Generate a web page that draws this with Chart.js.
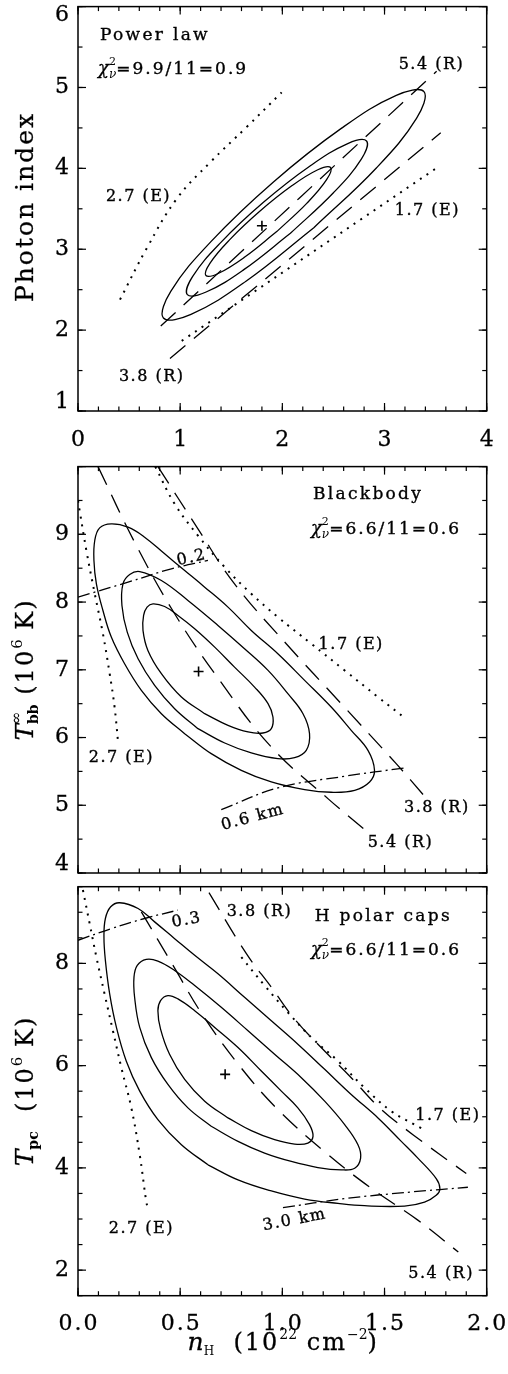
<!DOCTYPE html>
<html>
<head>
<meta charset="utf-8">
<script src="https://cdn.jsdelivr.net/npm/chart.js@4/dist/chart.umd.min.js"></script>
<style>
  html, body { margin: 0; padding: 0; background: #fff; }
  #wrap { position: relative; width: 508px; height: 1374px; overflow: hidden; }
  canvas { position: absolute; left: 0; }
</style>
</head>
<body>
<div id="wrap">
  <canvas id="c1" width="508" height="460" style="top:0px"></canvas>
  <canvas id="c2" width="508" height="420" style="top:460px"></canvas>
  <canvas id="c3" width="508" height="494" style="top:880px"></canvas>
</div>
<script>
// ---- panel 1: power law (nH, photon index) ----
const p1XTicks = [0, 1, 2, 3, 4];
const p1YTicks = [1, 2, 3, 4, 5, 6];
const plOuter = [[2.308,3.266],[1.644,2.604],[1.106,2.195],[0.836,2.150],[0.908,2.479],[1.301,3.094],[1.913,3.832],[2.577,4.494],[3.115,4.903],[3.386,4.949],[3.313,4.619],[2.920,4.004],[2.308,3.266]];
const plMiddle = [[2.079,3.197],[1.623,2.748],[1.254,2.471],[1.070,2.439],[1.121,2.662],[1.394,3.079],[1.815,3.580],[2.271,4.029],[2.640,4.306],[2.824,4.338],[2.773,4.115],[2.500,3.698],[2.079,3.197]];
const plInner = [[1.948,3.221],[1.632,2.903],[1.377,2.703],[1.252,2.675],[1.291,2.826],[1.483,3.116],[1.776,3.466],[2.092,3.784],[2.347,3.983],[2.472,4.011],[2.433,3.860],[2.241,3.570],[1.948,3.221]];
const plBest = [1.80, 3.29];
const pl54R = [[0.81,2.05],[3.51,5.20]];
const pl38R = [[0.90,1.65],[3.55,4.44]];
const pl27E = [[0.411,2.377],[0.672,3.010],[0.966,3.623],[1.292,4.072],[1.650,4.510],[1.993,4.939]];
const pl17E = [[1.015,1.867],[3.493,3.990]];

// ---- panel 2: blackbody (nH, T_bb) ----
const p2XTicks = [0, 0.5, 1, 1.5, 2];
const p2YTicks = [4, 5, 6, 7, 8, 9, 10];
const p2YLabels = [4, 5, 6, 7, 8, 9];
const bbOuter = [[0.522,6.057],[0.652,5.762],[0.799,5.516],[0.946,5.344],[1.109,5.231],[1.239,5.192],[1.354,5.221],[1.427,5.344],[1.451,5.516],[1.419,5.811],[1.337,6.106],[1.239,6.450],[1.109,6.844],[0.978,7.237],[0.848,7.581],[0.734,7.925],[0.620,8.220],[0.522,8.466],[0.424,8.712],[0.326,8.958],[0.245,9.105],[0.163,9.154],[0.106,9.095],[0.082,8.909],[0.078,8.614],[0.090,8.269],[0.122,7.876],[0.163,7.483],[0.228,7.089],[0.310,6.696],[0.408,6.352],[0.522,6.057]];
const bbMiddle = [[0.587,6.131],[0.718,5.919],[0.848,5.772],[0.978,5.688],[1.060,5.703],[1.117,5.811],[1.133,6.057],[1.101,6.352],[1.027,6.647],[0.930,6.991],[0.815,7.311],[0.685,7.655],[0.538,8.024],[0.408,8.318],[0.302,8.451],[0.253,8.407],[0.220,8.269],[0.215,7.950],[0.241,7.557],[0.294,7.163],[0.375,6.770],[0.473,6.426],[0.587,6.131]];
const bbInner = [[0.620,6.352],[0.734,6.180],[0.832,6.082],[0.905,6.067],[0.946,6.131],[0.954,6.303],[0.930,6.500],[0.864,6.745],[0.766,7.040],[0.669,7.335],[0.571,7.606],[0.489,7.802],[0.424,7.935],[0.367,7.974],[0.338,7.925],[0.321,7.802],[0.318,7.581],[0.342,7.286],[0.408,6.942],[0.506,6.598],[0.620,6.352]];
const bbBest = [0.590, 6.976];
const bb54R = [[0.098,10.0],[0.277,8.884],[0.473,7.827],[0.693,6.844],[0.946,5.860],[1.223,5.098],[1.402,4.641]];
const bb38R = [[0.391,10.0],[0.587,9.081],[0.766,8.269],[1.019,7.385],[1.288,6.500],[1.557,5.615],[1.696,5.133]];
const bb17E = [[0.378,10.0],[0.473,9.449],[0.587,8.982],[0.718,8.515],[0.848,8.122],[0.978,7.778],[1.142,7.384],[1.305,6.991],[1.468,6.598],[1.606,6.273]];
const bb27E = [[0.0,9.498],[0.008,9.351],[0.041,8.761],[0.082,8.122],[0.122,7.532],[0.155,6.942],[0.179,6.450],[0.196,5.934]];
const bbR02 = [[0.0,8.073],[0.245,8.294],[0.457,8.491],[0.636,8.614]];
const bbR06 = [[0.701,4.936],[0.978,5.256],[1.305,5.428],[1.598,5.551]];

// ---- panel 3: H polar caps (nH, T_pc) ----
const p3XTicks = [0, 0.5, 1, 1.5, 2];
const p3YTicks = [2, 4, 6, 8];
const hpOuter = [[0.636,4.060],[0.783,3.765],[0.946,3.548],[1.109,3.391],[1.272,3.306],[1.402,3.260],[1.598,3.253],[1.696,3.332],[1.753,3.463],[1.771,3.594],[1.753,3.791],[1.663,4.191],[1.582,4.519],[1.468,4.977],[1.337,5.436],[1.207,5.928],[1.076,6.420],[0.946,6.878],[0.815,7.337],[0.685,7.796],[0.571,8.157],[0.473,8.484],[0.375,8.812],[0.294,9.074],[0.204,9.186],[0.160,9.107],[0.134,8.878],[0.127,8.517],[0.134,8.058],[0.155,7.403],[0.188,6.747],[0.236,6.092],[0.302,5.502],[0.391,4.945],[0.506,4.453],[0.636,4.060]];
const hpMiddle = [[0.652,4.814],[0.783,4.519],[0.913,4.289],[1.044,4.125],[1.174,4.007],[1.288,3.961],[1.354,3.994],[1.383,4.191],[1.370,4.453],[1.305,4.846],[1.207,5.305],[1.093,5.764],[0.962,6.223],[0.832,6.682],[0.701,7.141],[0.571,7.567],[0.473,7.862],[0.391,8.045],[0.334,8.078],[0.290,7.960],[0.274,7.731],[0.277,7.337],[0.302,6.747],[0.359,6.157],[0.440,5.633],[0.538,5.174],[0.652,4.814]];
const hpInner = [[0.734,4.977],[0.848,4.728],[0.962,4.551],[1.060,4.466],[1.125,4.486],[1.150,4.617],[1.133,4.846],[1.076,5.174],[0.995,5.502],[0.897,5.895],[0.783,6.354],[0.669,6.747],[0.571,7.075],[0.489,7.305],[0.440,7.370],[0.404,7.272],[0.391,7.075],[0.404,6.715],[0.448,6.223],[0.522,5.731],[0.620,5.305],[0.734,4.977]];
const hpBest = [0.72, 5.83];
const hp54R = [[0.310,9.009],[0.465,7.960],[0.612,6.977],[0.791,5.994],[0.978,5.141],[1.215,4.289],[1.435,3.601],[1.663,2.978],[1.861,2.355]];
const hp38R = [[0.641,9.383],[0.824,8.190],[0.946,7.534],[1.060,6.911],[1.190,6.354],[1.337,5.764],[1.476,5.174],[1.639,4.650],[1.900,3.889]];
const hp17E = [[0.799,8.124],[0.913,7.567],[1.027,7.042],[1.142,6.551],[1.272,6.092],[1.402,5.567],[1.533,5.109],[1.647,4.846],[1.680,4.774]];
const hp27E = [[0.024,9.435],[0.057,8.779],[0.090,8.124],[0.130,7.403],[0.171,6.682],[0.212,5.961],[0.261,5.174],[0.302,4.256],[0.334,3.339],[0.342,3.201]];
const hpR03 = [[0.0,8.452],[0.163,8.681],[0.326,8.878],[0.489,9.042]];
const hpR30 = [[1.003,3.221],[1.305,3.398],[1.631,3.529],[1.908,3.621]];

const SERIF = '"DejaVu Serif", serif';
const F = (size, style) => (style ? style + ' ' : '') + size + 'px ' + SERIF;

// line styles
const solid = {};
const longDash = { borderDash: [20, 11] };
const dotted = { borderDash: [2, 6], borderWidth: 2 };
const dashDot = { borderDash: [12, 4, 2, 4] };

const line = (pts, style) => Object.assign({
  data: pts.map(([x, y]) => ({ x, y })),
  showLine: true, pointRadius: 0, borderColor: '#000', borderWidth: 1.3,
  tension: 0.4, fill: false
}, style);

const best = (p) => ({
  data: [{ x: p[0], y: p[1] }], showLine: false, pointStyle: 'cross',
  pointRadius: 5, borderWidth: 1.6, borderColor: '#000'
});

const txt = (t) => [{ t, f: F(16), ls: 1.5, sw: 0.35 }];
const head = (t) => [{ t, f: F(17), ls: 2.3, sw: 0.35 }];
const chi = (s) => [
  { t: 'χ', f: F(18, 'italic'), sw: 0.3 },
  { t: '2', f: F(11), dy: -9, hold: true },
  { t: 'ν', f: F(12, 'italic'), dy: 4 },
  { t: s, f: F(17), ls: 2, sw: 0.35 }
];

// draws a run of text pieces (sub/superscripts) with alphabetic baseline at y
function drawRich(ctx, parts, x, y, align, rot, dy0) {
  ctx.save();
  ctx.translate(x, y);
  if (rot) ctx.rotate(rot);
  ctx.textBaseline = 'alphabetic';
  ctx.textAlign = 'left';
  ctx.fillStyle = '#000';
  ctx.strokeStyle = '#000';
  let w = 0, held = 0;
  const pos = [];
  for (const p of parts) {
    ctx.font = p.f;
    ctx.letterSpacing = (p.ls || 0) + 'px';
    const pw = ctx.measureText(p.t).width;
    pos.push(w);
    if (p.hold) held = Math.max(held, pw);
    else { w += Math.max(pw, held); held = 0; }
  }
  const x0 = align === 'center' ? -w / 2 : align === 'right' ? -w : 0;
  parts.forEach((p, i) => {
    ctx.font = p.f;
    ctx.letterSpacing = (p.ls || 0) + 'px';
    const ty = (dy0 || 0) + (p.dy || 0);
    ctx.fillText(p.t, x0 + pos[i], ty);
    if (p.sw) { ctx.lineWidth = p.sw; ctx.strokeText(p.t, x0 + pos[i], ty); }
  });
  ctx.restore();
}

// box, inward ticks on all four sides, tick labels, notes and axis titles
function framePlugin(cfg) {
  return {
    id: 'frame',
    afterDatasetsDraw(chart) {
      const { ctx, chartArea: a } = chart;
      const sx = chart.scales.x, sy = chart.scales.y;
      ctx.save();
      ctx.strokeStyle = '#000';
      ctx.lineWidth = 1.5;
      ctx.strokeRect(a.left, a.top, a.right - a.left, a.bottom - a.top);
      ctx.lineWidth = 1.2;
      const seg = (x1, y1, x2, y2) => { ctx.beginPath(); ctx.moveTo(x1, y1); ctx.lineTo(x2, y2); ctx.stroke(); };
      const xt = (v, len) => { const p = sx.getPixelForValue(v); seg(p, a.bottom, p, a.bottom - len); seg(p, a.top, p, a.top + len); };
      const yt = (v, len) => { const p = sy.getPixelForValue(v); seg(a.left, p, a.left + len, p); seg(a.right, p, a.right - len, p); };
      const minors = (min, max, step, fn) => {
        const n = Math.round((max - min) / step);
        for (let i = 0; i <= n; i++) fn(min + i * step, 4.5);
      };
      minors(sx.min, sx.max, cfg.xMinor, xt);
      minors(sy.min, sy.max, cfg.yMinor, yt);
      cfg.xTicks.forEach(v => xt(v, 8));
      cfg.yTicks.forEach(v => yt(v, 8));

      ctx.fillStyle = '#000';
      ctx.textBaseline = 'middle';
      ctx.font = F(22);
      ctx.lineWidth = 0.3;
      if (cfg.xLabels) {
        ctx.textAlign = 'center';
        ctx.letterSpacing = cfg.xLs + 'px';
        cfg.xLabels.forEach(v => {
          const px = sx.getPixelForValue(v) + cfg.xLs / 2;
          ctx.fillText(cfg.xFmt(v), px, a.bottom + 29);
          ctx.strokeText(cfg.xFmt(v), px, a.bottom + 29);
        });
      }
      ctx.textAlign = 'right';
      ctx.letterSpacing = '0px';
      cfg.yLabels.forEach(v => {
        let p = sy.getPixelForValue(v);
        if (v === sy.max) p = a.top + 9;
        if (v === sy.min) p = a.bottom - 9;
        ctx.fillText(String(v), a.left - 9, p);
        ctx.strokeText(String(v), a.left - 9, p);
      });
      ctx.restore();
    },
    afterDraw(chart) {
      const { ctx } = chart;
      const sx = chart.scales.x, sy = chart.scales.y;
      cfg.notes.forEach(n => {
        drawRich(ctx, n.parts, sx.getPixelForValue(n.x), sy.getPixelForValue(n.y),
          n.align || 'center', (n.rot || 0) * Math.PI / 180, 5.5);
      });
      cfg.titles.forEach(t => drawRich(ctx, t.parts, t.x, t.y, 'center', (t.rot || 0) * Math.PI / 180, 0));
    }
  };
}

function makePanel(id, pad, xr, yr, cfg, datasets) {
  return new Chart(document.getElementById(id), {
    type: 'scatter',
    data: { datasets },
    options: {
      responsive: false,
      animation: false,
      events: [],
      layout: { padding: pad },
      plugins: { legend: { display: false }, tooltip: { enabled: false } },
      scales: {
        x: { type: 'linear', display: false, min: xr[0], max: xr[1] },
        y: { type: 'linear', display: false, min: yr[0], max: yr[1] }
      }
    },
    plugins: [framePlugin(cfg)]
  });
}

makePanel('c1', { left: 78, right: 21.3, top: 2.7, bottom: 49 }, [0, 4], [1, 6], {
  xTicks: p1XTicks, xMinor: 0.2, yTicks: p1YTicks, yMinor: 0.5,
  xLabels: p1XTicks, xFmt: v => String(v), xLs: 0, yLabels: p1YTicks,
  notes: [
    { parts: head('Power law'), x: 0.215, y: 5.653, align: 'left' },
    { parts: chi('=9.9/11=0.9'), x: 0.196, y: 5.237, align: 'left' },
    { parts: txt('5.4 (R)'), x: 3.459, y: 5.298 },
    { parts: txt('2.7 (E)'), x: 0.592, y: 3.668 },
    { parts: txt('1.7 (E)'), x: 3.420, y: 3.496 },
    { parts: txt('3.8 (R)'), x: 0.721, y: 1.438 }
  ],
  titles: [
    { parts: [{ t: 'Photon index', f: F(25), ls: 2, sw: 0.3 }], x: 33, y: 207, rot: -90 }
  ]
}, [
  line(plOuter, solid), line(plMiddle, solid), line(plInner, solid),
  line(pl54R, longDash), line(pl38R, longDash),
  line(pl27E, dotted), line(pl17E, dotted),
  best(plBest)
]);

makePanel('c2', { left: 78, right: 21.3, top: 6, bottom: 7 }, [0, 2], [4, 10], {
  xTicks: p2XTicks, xMinor: 0.1, yTicks: p2YTicks, yMinor: 0.5,
  xLabels: null, yLabels: p2YLabels,
  notes: [
    { parts: head('Blackbody'), x: 1.150, y: 9.606, align: 'left' },
    { parts: chi('=6.6/11=0.6'), x: 1.140, y: 9.090, align: 'left' },
    { parts: txt('0.2'), x: 0.555, y: 8.672, rot: -13 },
    { parts: txt('1.7 (E)'), x: 1.337, y: 7.385 },
    { parts: txt('2.7 (E)'), x: 0.212, y: 5.713 },
    { parts: txt('0.6 km'), x: 0.854, y: 4.838, rot: -15 },
    { parts: txt('3.8 (R)'), x: 1.756, y: 4.985 },
    { parts: txt('5.4 (R)'), x: 1.578, y: 4.469 }
  ],
  titles: [
    { parts: [
      { t: 'T', f: F(25, 'italic'), sw: 0.3 },
      { t: '∞', f: F(15), dy: -12, hold: true },
      { t: 'bb', f: F(14, 'bold'), dy: 5 },
      { t: ' (10', f: F(24), ls: 2, sw: 0.3 },
      { t: '6', f: F(15), dy: -11 },
      { t: ' K)', f: F(24), ls: 2, sw: 0.3 }
    ], x: 33, y: 209.5, rot: -90 }
  ]
}, [
  line(bbOuter, solid), line(bbMiddle, solid), line(bbInner, solid),
  line(bb54R, longDash), line(bb38R, longDash),
  line(bb17E, dotted), line(bb27E, dotted),
  line(bbR02, dashDot), line(bbR06, dashDot),
  best(bbBest)
]);

makePanel('c3', { left: 78, right: 21.3, top: 6.7, bottom: 78.3 }, [0, 2], [1.5, 9.5], {
  xTicks: p3XTicks, xMinor: 0.1, yTicks: p3YTicks, yMinor: 0.5,
  xLabels: p3XTicks, xFmt: v => v.toFixed(1), xLs: 2, yLabels: p3YTicks,
  notes: [
    { parts: head('H polar caps'), x: 1.158, y: 8.938, align: 'left' },
    { parts: chi('=6.6/11=0.6'), x: 1.140, y: 8.281, align: 'left' },
    { parts: txt('0.3'), x: 0.531, y: 8.871, rot: -11 },
    { parts: txt('3.8 (R)'), x: 0.888, y: 9.036 },
    { parts: txt('1.7 (E)'), x: 1.810, y: 5.036 },
    { parts: txt('2.7 (E)'), x: 0.310, y: 2.841 },
    { parts: txt('3.0 km'), x: 1.059, y: 3.004, rot: -11 },
    { parts: txt('5.4 (R)'), x: 1.777, y: 1.956 }
  ],
  titles: [
    { parts: [
      { t: 'T', f: F(25, 'italic'), sw: 0.3 },
      { t: 'pc', f: F(14, 'bold'), dy: 5 },
      { t: '  (10', f: F(24), ls: 2, sw: 0.3 },
      { t: '6', f: F(15), dy: -11 },
      { t: ' K)', f: F(24), ls: 2, sw: 0.3 }
    ], x: 33, y: 211, rot: -90 },
    { parts: [
      { t: 'n', f: F(25, 'italic'), sw: 0.3 },
      { t: 'H', f: F(12), dy: 5 },
      { t: '  (10', f: F(24), ls: 2, sw: 0.3 },
      { t: '22', f: F(14), dy: -11 },
      { t: ' cm', f: F(24), ls: 2, sw: 0.3 },
      { t: '−2', f: F(14), dy: -11 },
      { t: ')', f: F(24), sw: 0.3 }
    ], x: 282.3, y: 470 }
  ]
}, [
  line(hpOuter, solid), line(hpMiddle, solid), line(hpInner, solid),
  line(hp54R, longDash), line(hp38R, longDash),
  line(hp17E, dotted), line(hp27E, dotted),
  line(hpR03, dashDot), line(hpR30, dashDot),
  best(hpBest)
]);
</script>
</body>
</html>
